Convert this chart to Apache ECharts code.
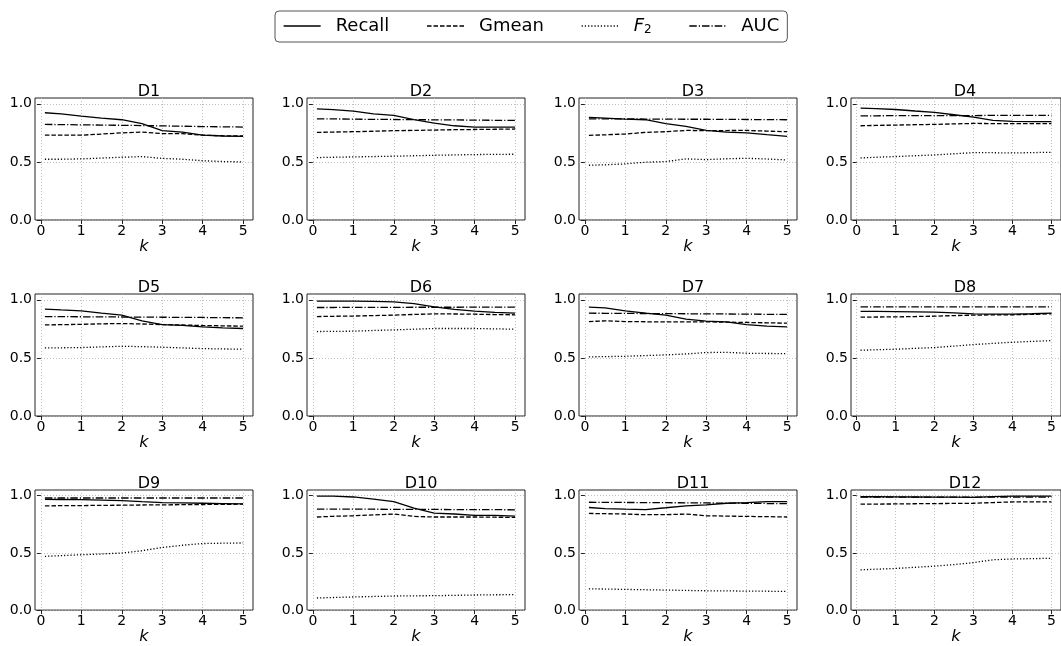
<!DOCTYPE html>
<html>
<head>
<meta charset="utf-8">
<script src="https://cdn.jsdelivr.net/npm/echarts@6/dist/echarts.min.js"></script>
<style>
  html, body { margin: 0; padding: 0; background: #fff; }
  #main { width: 1061px; height: 646px; }
</style>
</head>
<body>
<div id="main"></div>
<script>
const k = [0.1, 0.5, 1, 1.5, 2, 2.5, 3, 3.5, 4, 4.5, 5];
const titles = ['D1', 'D2', 'D3', 'D4', 'D5', 'D6', 'D7', 'D8', 'D9', 'D10', 'D11', 'D12'];
const xTicks = [0, 1, 2, 3, 4, 5];
const yTicks = [0, 0.5, 1.0];

const recall = [
    [0.923, 0.914, 0.894, 0.877, 0.863, 0.83, 0.77, 0.757, 0.73, 0.723, 0.72],
    [0.957, 0.95, 0.937, 0.914, 0.9, 0.863, 0.834, 0.811, 0.8, 0.8, 0.8],
    [0.883, 0.877, 0.869, 0.863, 0.829, 0.806, 0.771, 0.757, 0.749, 0.734, 0.72],
    [0.963, 0.958, 0.951, 0.938, 0.926, 0.906, 0.886, 0.857, 0.849, 0.847, 0.846],
    [0.92, 0.913, 0.905, 0.885, 0.868, 0.819, 0.787, 0.78, 0.767, 0.759, 0.753],
    [0.989, 0.989, 0.989, 0.987, 0.983, 0.968, 0.94, 0.917, 0.902, 0.891, 0.885],
    [0.937, 0.931, 0.905, 0.885, 0.868, 0.833, 0.816, 0.81, 0.787, 0.773, 0.767],
    [0.9, 0.9, 0.899, 0.897, 0.894, 0.888, 0.879, 0.877, 0.876, 0.88, 0.885],
    [0.968, 0.967, 0.966, 0.962, 0.957, 0.948, 0.94, 0.937, 0.934, 0.931, 0.928],
    [0.997, 0.997, 0.989, 0.971, 0.948, 0.891, 0.848, 0.84, 0.828, 0.828, 0.822],
    [0.897, 0.888, 0.883, 0.879, 0.895, 0.912, 0.92, 0.934, 0.94, 0.948, 0.948],
    [0.991, 0.991, 0.99, 0.989, 0.988, 0.987, 0.986, 0.992, 0.997, 0.997, 0.997]
];
const gmean = [
    [0.73, 0.73, 0.73, 0.74, 0.75, 0.757, 0.743, 0.743, 0.73, 0.725, 0.723],
    [0.754, 0.757, 0.76, 0.764, 0.769, 0.771, 0.774, 0.777, 0.779, 0.781, 0.783],
    [0.729, 0.733, 0.74, 0.754, 0.76, 0.771, 0.769, 0.77, 0.771, 0.765, 0.76],
    [0.811, 0.814, 0.817, 0.82, 0.823, 0.827, 0.831, 0.83, 0.829, 0.829, 0.829],
    [0.784, 0.786, 0.789, 0.793, 0.796, 0.792, 0.787, 0.783, 0.779, 0.776, 0.773],
    [0.856, 0.858, 0.86, 0.864, 0.868, 0.874, 0.879, 0.878, 0.876, 0.873, 0.871],
    [0.813, 0.819, 0.813, 0.811, 0.81, 0.81, 0.81, 0.808, 0.805, 0.802, 0.799],
    [0.851, 0.852, 0.853, 0.856, 0.859, 0.864, 0.868, 0.87, 0.871, 0.875, 0.879],
    [0.911, 0.913, 0.914, 0.916, 0.917, 0.919, 0.92, 0.922, 0.923, 0.925, 0.926],
    [0.814, 0.82, 0.825, 0.832, 0.84, 0.819, 0.814, 0.814, 0.814, 0.812, 0.811],
    [0.845, 0.843, 0.84, 0.834, 0.834, 0.84, 0.825, 0.822, 0.819, 0.817, 0.814],
    [0.926, 0.927, 0.928, 0.93, 0.931, 0.933, 0.934, 0.94, 0.946, 0.946, 0.946]
];
const f2 = [
    [0.523, 0.523, 0.526, 0.533, 0.54, 0.546, 0.53, 0.523, 0.51, 0.503, 0.5],
    [0.537, 0.54, 0.543, 0.546, 0.549, 0.553, 0.557, 0.56, 0.563, 0.565, 0.566],
    [0.471, 0.475, 0.483, 0.497, 0.503, 0.526, 0.52, 0.527, 0.531, 0.525, 0.517],
    [0.534, 0.54, 0.546, 0.553, 0.56, 0.57, 0.58, 0.579, 0.577, 0.58, 0.583],
    [0.586, 0.587, 0.589, 0.595, 0.6, 0.597, 0.592, 0.586, 0.58, 0.577, 0.575],
    [0.727, 0.728, 0.73, 0.736, 0.741, 0.747, 0.753, 0.753, 0.753, 0.75, 0.747],
    [0.509, 0.511, 0.514, 0.52, 0.526, 0.534, 0.546, 0.548, 0.54, 0.538, 0.537],
    [0.566, 0.57, 0.575, 0.582, 0.589, 0.602, 0.615, 0.625, 0.635, 0.642, 0.649],
    [0.47, 0.476, 0.484, 0.491, 0.499, 0.519, 0.547, 0.567, 0.582, 0.585, 0.587],
    [0.106, 0.11, 0.115, 0.119, 0.123, 0.125, 0.126, 0.129, 0.132, 0.134, 0.135],
    [0.186, 0.184, 0.181, 0.178, 0.175, 0.172, 0.169, 0.168, 0.166, 0.165, 0.163],
    [0.352, 0.358, 0.364, 0.374, 0.384, 0.398, 0.415, 0.44, 0.447, 0.45, 0.453]
];
const auc = [
    [0.823, 0.821, 0.819, 0.817, 0.815, 0.813, 0.81, 0.807, 0.804, 0.802, 0.8],
    [0.871, 0.87, 0.868, 0.866, 0.865, 0.864, 0.862, 0.861, 0.86, 0.858, 0.857],
    [0.871, 0.87, 0.87, 0.869, 0.868, 0.867, 0.867, 0.866, 0.865, 0.864, 0.863],
    [0.897, 0.897, 0.898, 0.898, 0.898, 0.899, 0.899, 0.9, 0.9, 0.9, 0.9],
    [0.856, 0.855, 0.854, 0.853, 0.852, 0.851, 0.85, 0.849, 0.848, 0.846, 0.845],
    [0.934, 0.934, 0.935, 0.935, 0.935, 0.936, 0.936, 0.936, 0.937, 0.937, 0.937],
    [0.885, 0.884, 0.883, 0.882, 0.881, 0.88, 0.879, 0.878, 0.877, 0.875, 0.874],
    [0.94, 0.94, 0.94, 0.94, 0.94, 0.94, 0.94, 0.94, 0.94, 0.94, 0.94],
    [0.98, 0.98, 0.98, 0.98, 0.98, 0.98, 0.98, 0.98, 0.98, 0.98, 0.98],
    [0.883, 0.883, 0.882, 0.882, 0.881, 0.88, 0.88, 0.879, 0.878, 0.878, 0.877],
    [0.943, 0.942, 0.941, 0.94, 0.939, 0.938, 0.937, 0.935, 0.934, 0.932, 0.931],
    [0.988, 0.988, 0.988, 0.988, 0.988, 0.988, 0.988, 0.988, 0.988, 0.988, 0.988]
];

const FONT = 'DejaVu Sans';
const metrics = [
    { name: 'Recall', values: recall, dash: 'solid' },
    { name: 'Gmean', values: gmean, dash: [4.5, 2] },
    { name: 'F2', values: f2, dash: [1.2, 2] },
    { name: 'AUC', values: auc, dash: [7.5, 2, 1.2, 2] }
];

// panel layout
const colLeft = [35, 307, 579, 851];
const rowTop = [98, 294, 490];
const panelW = 218, panelH = 122;

let grids = [], xAxes = [], yAxes = [], titleList = [], series = [];

titles.forEach((t, i) => {
    const left = colLeft[i % 4], top = rowTop[Math.floor(i / 4)];
    grids.push({
        left: left, top: top, width: panelW, height: panelH,
        show: true, borderColor: '#222', borderWidth: 1, backgroundColor: 'transparent'
    });
    titleList.push({
        text: t, left: left + panelW / 2, top: top - 19, textAlign: 'center',
        textStyle: { fontFamily: FONT, fontSize: 16, fontWeight: 'normal', color: '#000' }
    });
    xAxes.push({
        type: 'value', gridIndex: i, min: -0.145, max: 5.245,
        name: 'k', nameLocation: 'middle', nameGap: 15,
        nameTextStyle: { fontFamily: FONT, fontSize: 16, fontStyle: 'italic', color: '#000' },
        axisLine: { show: false },
        axisTick: { show: true, length: 4, customValues: xTicks, lineStyle: { color: '#222' } },
        axisLabel: { customValues: xTicks, margin: 4, fontFamily: FONT, fontSize: 14, color: '#000' },
        splitLine: { show: true, lineStyle: { color: '#b0b0b0', type: [1, 2], width: 0.8 } }
    });
    yAxes.push({
        type: 'value', gridIndex: i, min: 0, max: 1.05,
        axisLine: { show: false },
        axisTick: { show: true, length: 4, customValues: yTicks, lineStyle: { color: '#222' } },
        axisLabel: {
            customValues: yTicks, margin: 3, fontFamily: FONT, fontSize: 14, color: '#000',
            formatter: v => v.toFixed(1)
        },
        splitLine: { show: true, lineStyle: { color: '#b0b0b0', type: [1, 2], width: 0.8 } }
    });
    metrics.forEach(m => {
        series.push({
            name: m.name, type: 'line', xAxisIndex: i, yAxisIndex: i,
            data: k.map((x, j) => [x, m.values[i][j]]),
            symbol: 'none', silent: true, animation: false,
            itemStyle: { color: '#000' },
            lineStyle: { color: '#000', width: 1.3, type: m.dash }
        });
    });
});

const chart = echarts.init(document.getElementById('main'), null, { renderer: 'canvas' });
chart.setOption({
    backgroundColor: '#fff',
    animation: false,
    title: titleList,
    legend: {
        data: metrics.map(m => m.name),
        left: 275, top: 11,
        padding: [6, 8, 6, 8],
        itemWidth: 37, itemHeight: 14, itemGap: 37,
        borderColor: '#555', borderWidth: 1, borderRadius: 4,
        itemStyle: { opacity: 0 },
        lineStyle: { width: 1.3 },
        textStyle: {
            fontFamily: FONT, fontSize: 18, color: '#000', padding: [0, 0, 0, 10],
            rich: {
                i: { fontFamily: FONT, fontSize: 18, fontStyle: 'italic', color: '#000' },
                s: { fontFamily: FONT, fontSize: 12, color: '#000', verticalAlign: 'bottom', padding: [8, 0, 0, 0] }
            }
        },
        formatter: name => name === 'F2' ? '{i|F}{s|2}' : name
    },
    grid: grids,
    xAxis: xAxes,
    yAxis: yAxes,
    series: series
});
</script>
</body>
</html>
